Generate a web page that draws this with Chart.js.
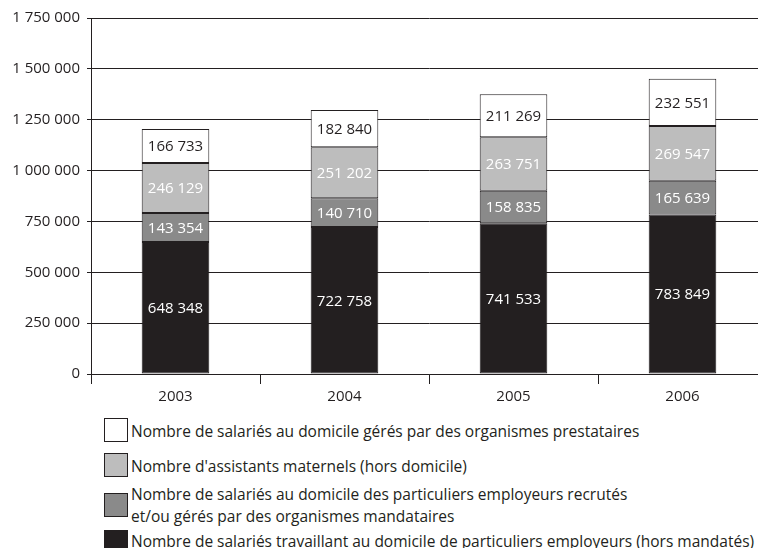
<!DOCTYPE html>
<html><head><meta charset="utf-8">
<script src="https://cdn.jsdelivr.net/npm/chart.js@4/dist/chart.umd.min.js"></script>
<style>
html,body{margin:0;padding:0;width:758px;height:548px;overflow:hidden;background:#fff;}
#c{position:absolute;left:0;top:0;}
.box{position:absolute;width:24px;height:24px;box-sizing:border-box;border:1px solid #231f20;}
.txt{position:absolute;white-space:nowrap;line-height:20px;font:15.5px 'Open Sans';color:#231f20;}
</style></head>
<body>
<canvas id="c" width="770" height="410"></canvas>
<div id="legend"></div>
<script>
// ---- data ----
const categories = ['2003', '2004', '2005', '2006'];
const horsMandates = [648348, 722758, 741533, 783849];
const mandataires  = [143354, 140710, 158835, 165639];
const assistants   = [246129, 251202, 263751, 269547];
const prestataires = [166733, 182840, 211269, 232551];
const yTicks = [0, 250000, 500000, 750000, 1000000, 1250000, 1500000, 1750000];
const seriesNames = [
  'Nombre de salariés travaillant au domicile de particuliers employeurs (hors mandatés)',
  'Nombre de salariés au domicile des particuliers employeurs recrutés\net/ou gérés par des organismes mandataires',
  "Nombre d'assistants maternels (hors domicile)",
  'Nombre de salariés au domicile gérés par des organismes prestataires'
];

// ---- styles ----
const colors = ['#231f20', '#8a8a8a', '#bdbdbd', '#ffffff'];
const labelColors = ['#ffffff', '#ffffff', '#ffffff', '#231f20'];
const ink = '#231f20';
const FONT = "'Open Sans'";

function fmt(v){ return String(v).replace(/\B(?=(\d{3})+(?!\d))/g, ' '); }

const seriesData = [horsMandates, mandataires, assistants, prestataires];

const labelPlugin = {
  id: 'segLabels',
  afterDatasetsDraw(chart){
    const ctx = chart.ctx;
    ctx.save();
    ctx.font = '15px ' + FONT;
    ctx.textAlign = 'center';
    ctx.textBaseline = 'middle';
    chart.data.datasets.forEach((ds, i) => {
      const meta = chart.getDatasetMeta(i);
      meta.data.forEach((bar, j) => {
        const p = bar.getProps(['x', 'y', 'base'], true);
        ctx.fillStyle = labelColors[i];
        ctx.fillText(fmt(ds.data[j]), p.x, (p.y + p.base) / 2 + 1);
      });
    });
    ctx.restore();
  }
};

new Chart(document.getElementById('c'), {
  type: 'bar',
  data: {
    labels: categories,
    datasets: seriesData.map((d, i) => ({
      label: seriesNames[i],
      data: d,
      backgroundColor: colors[i],
      borderColor: ink,
      borderWidth: 1,
      borderSkipped: false,
      barPercentage: 0.4,
      categoryPercentage: 1.0
    }))
  },
  options: {
    responsive: false,
    animation: false,
    layout: { padding: { top: 18, right: 3, left: 0, bottom: 0 } },
    plugins: { legend: { display: false }, tooltip: { enabled: false } },
    scales: {
      x: {
        stacked: true,
        offset: true,
        grid: { display: true, drawOnChartArea: false, offset: true, tickLength: 10, color: ink, lineWidth: 1 },
        border: { display: true, color: ink, width: 1 },
        ticks: { color: ink, font: { family: FONT, size: 15 }, padding: 4 },
        afterFit(s){ s.height = 36; }
      },
      y: {
        stacked: true,
        min: 0,
        max: yTicks[yTicks.length - 1],
        afterBuildTicks(s){ s.ticks = yTicks.map(v => ({ value: v })); },
        grid: { color: ink, lineWidth: 1, tickLength: 4 },
        border: { display: true, color: ink, width: 1 },
        ticks: { color: ink, font: { family: FONT, size: 15 }, padding: 7, callback: v => fmt(v) },
        afterFit(s){ s.width = 91; }
      }
    }
  },
  plugins: [labelPlugin]
});

// ---- legend (top to bottom: reverse stacking order) ----
const legendRows = [
  { idx: 3, boxTop: 418, textTop: 420 },
  { idx: 2, boxTop: 453, textTop: 455 },
  { idx: 1, boxTop: 493, textTop: 483 },
  { idx: 0, boxTop: 530, textTop: 530 }
];
const lg = document.getElementById('legend');
legendRows.forEach(r => {
  const b = document.createElement('div');
  b.className = 'box';
  b.style.left = '104px';
  b.style.top = r.boxTop + 'px';
  b.style.background = colors[r.idx];
  lg.appendChild(b);
  const t = document.createElement('div');
  t.className = 'txt';
  t.style.left = '131px';
  t.style.top = r.textTop + 'px';
  seriesNames[r.idx].split('\n').forEach((line, k) => {
    if (k) t.appendChild(document.createElement('br'));
    t.appendChild(document.createTextNode(line));
  });
  lg.appendChild(t);
});
</script>
</body></html>
